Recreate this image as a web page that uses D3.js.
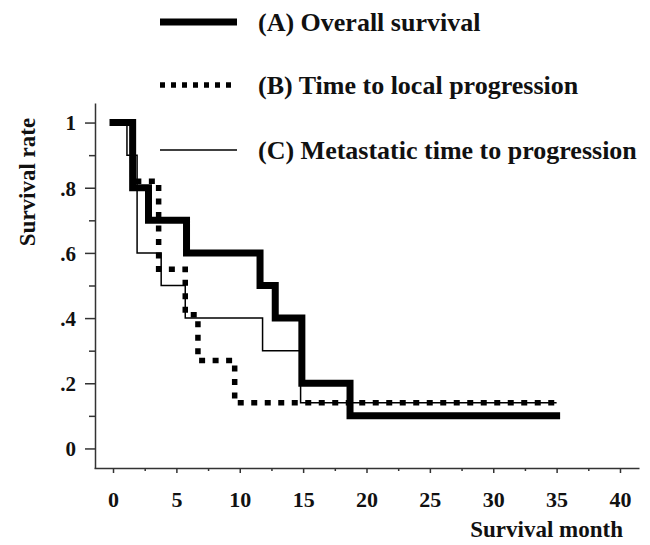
<!DOCTYPE html>
<html>
<head>
	<title>survival</title>
	<style>
		body{ margin:0; background:#fff; }
		text{
			font-family: "Liberation Serif", "Times New Roman", serif;
			font-weight: bold;
			fill:#111;
		}
		.axis path, .axis line{ stroke:#333; stroke-width:1.5px; }
	</style>
	<script src="https://d3js.org/d3.v7.min.js"></script>
</head>
<body>
<svg width="650" height="545"></svg>
<script>

	// (A) overall survival
	var monthsA = [0, 1.55, 2.8, 5.8, 11.6, 12.8, 14.9, 18.7, 35];
	var rateA   = [1, 0.8, 0.7, 0.6, 0.5, 0.4, 0.2, 0.1, 0.1];
	// (B) time to local progression
	var monthsB = [0, 1.55, 3.6, 5.7, 6.7, 9.6, 35];
	var rateB   = [1, 0.82, 0.55, 0.41, 0.27, 0.14, 0.14];
	// (C) metastatic time to progression
	var monthsC = [0, 1.1, 1.9, 3.8, 5.7, 11.8, 14.8, 35];
	var rateC   = [1, 0.9, 0.6, 0.5, 0.4, 0.3, 0.14, 0.14];

	var legendLabels = ["(A) Overall survival", "(B) Time to local progression", "(C) Metastatic time to progression"];
	var yTicks = [0, 0.2, 0.4, 0.6, 0.8, 1];
	var yTickLabels = ["0", ".2", ".4", ".6", ".8", "1"];
	var xTicks = [0, 5, 10, 15, 20, 25, 30, 35, 40];

	var svg = d3.select("svg");

	var x = d3.scaleLinear().domain([-1.5, 41.5]).range([94, 639]),
	    y = d3.scaleLinear().domain([-0.06, 1.06]).range([468, 103]);

	// axes
	svg.append("g")
	   .attr("class","axis")
	   .attr("transform","translate(95,0)")
	   .call(d3.axisLeft(y).tickValues(yTicks).tickSize(10).tickSizeOuter(0)
	        .tickFormat(function(d,i){ return yTickLabels[i]; }))
	   .call(function(g){
	       g.selectAll("text").attr("x",-19).attr("dy","0.35em").style("font-size","21px");
	   });

	svg.append("g")
	   .attr("class","axis")
	   .attr("transform","translate(95,0)")
	   .call(d3.axisLeft(y).tickValues([0.1,0.3,0.5,0.7,0.9]).tickSize(6).tickSizeOuter(0).tickFormat(""))
	   .select(".domain").remove();

	svg.append("g")
	   .attr("class","axis")
	   .attr("transform","translate(0,468)")
	   .call(d3.axisBottom(x).tickValues(xTicks).tickSize(5).tickSizeOuter(0))
	   .call(function(g){
	       g.selectAll("text").attr("y",23).attr("dy","0.71em").style("font-size","22px");
	   });

	svg.append("g")
	   .attr("class","axis")
	   .attr("transform","translate(0,468)")
	   .call(d3.axisBottom(x).tickValues([2.5,7.5,12.5,17.5,22.5,27.5,32.5,37.5]).tickSize(3).tickSizeOuter(0).tickFormat(""))
	   .select(".domain").remove();

	svg.selectAll(".axis .tick text").attr("fill","#111");

	svg.append("text")
	   .attr("x",623).attr("y",537)
	   .attr("text-anchor","end")
	   .style("font-size","23px")
	   .text("Survival month");

	svg.append("text")
	   .attr("transform","translate(35,182) rotate(-90)")
	   .attr("text-anchor","middle")
	   .style("font-size","23px")
	   .text("Survival rate");

	// curves
	var line = d3.line()
	    .x(function(d){ return x(d[0]); })
	    .y(function(d){ return y(d[1]); })
	    .curve(d3.curveStepAfter);

	var styles = [
		{width:7, dash:null, cap:"square"},
		{width:5.5, dash:"6,7.5", cap:"butt"},
		{width:1.5, dash:null, cap:"butt"}
	];

	var series = [d3.zip(monthsA, rateA), d3.zip(monthsB, rateB), d3.zip(monthsC, rateC)];

	// draw thin line first, then dotted, then thick
	[2,1,0].forEach(function(i){
		svg.append("path")
		   .datum(series[i])
		   .attr("d", line)
		   .attr("fill","none")
		   .attr("stroke","#000")
		   .attr("stroke-width", styles[i].width)
		   .attr("stroke-dasharray", styles[i].dash)
		   .attr("stroke-linecap", styles[i].cap)
		   .attr("stroke-linejoin","miter");
	});

	// legend
	var legendY = [22, 85, 150];
	var leg = svg.selectAll(".legend")
	    .data(legendLabels)
	    .enter().append("g")
	    .attr("class","legend")
	    .attr("transform",function(d,i){ return "translate(0,"+legendY[i]+")"; });

	leg.append("line")
	   .attr("x1",160).attr("x2",237)
	   .attr("stroke","#000")
	   .attr("stroke-width",function(d,i){ return styles[i].width; })
	   .attr("stroke-dasharray",function(d,i){ return i==1 ? "5,6" : null; });

	leg.append("text")
	   .attr("x",258).attr("y",8.5)
	   .style("font-size","26px")
	   .text(function(d){ return d; });

</script>
</body>
</html>
